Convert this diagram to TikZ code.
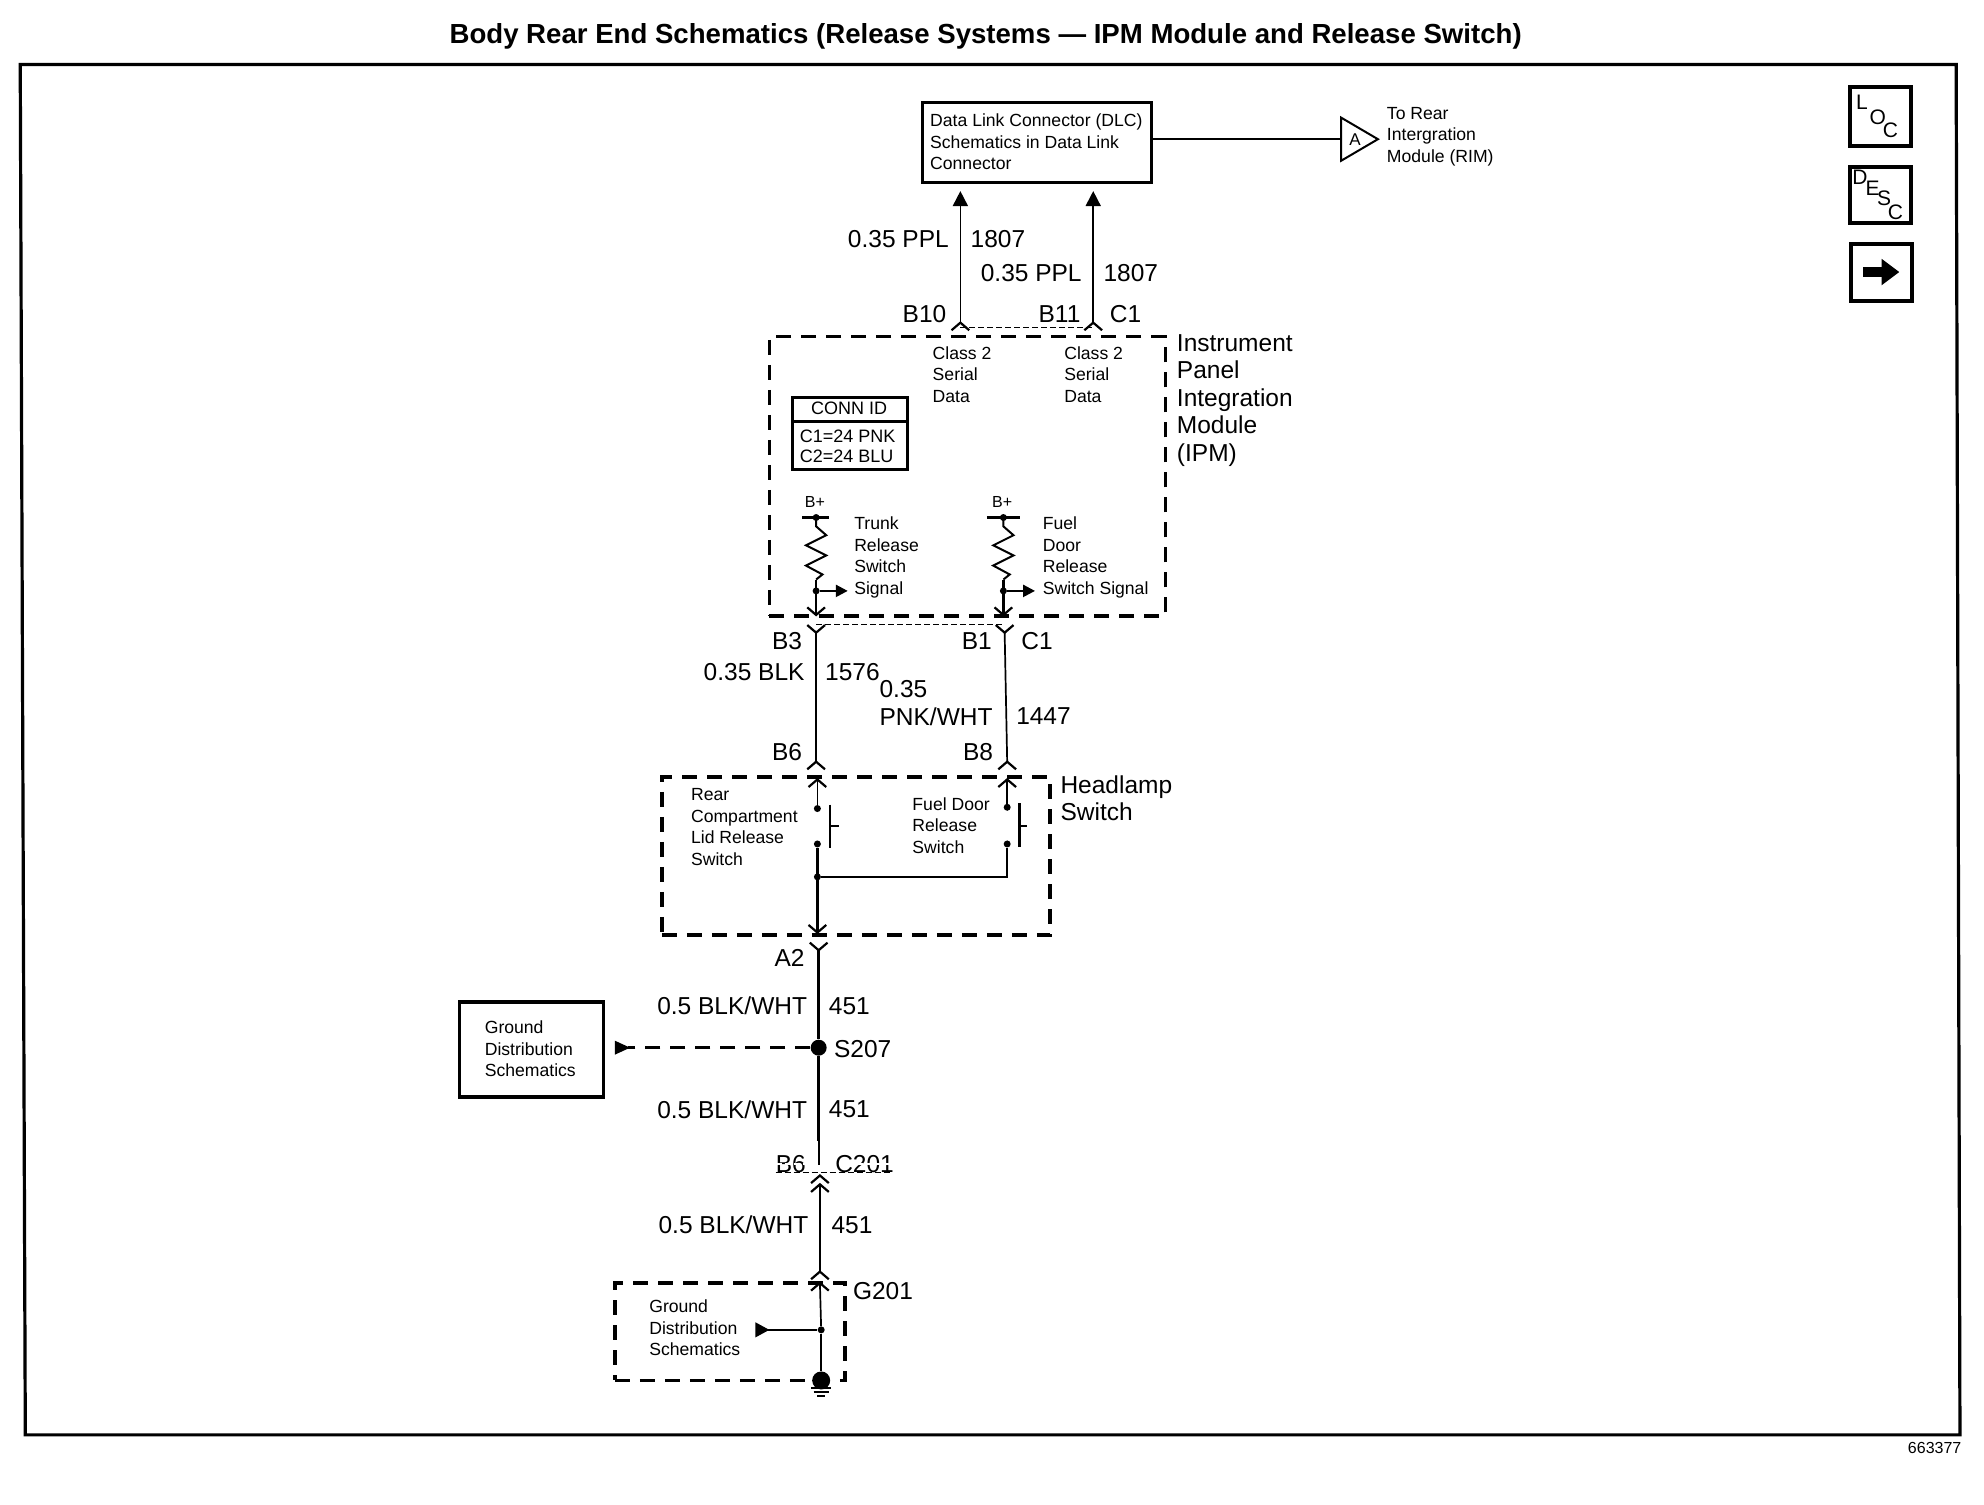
\documentclass[tikz,border=0pt]{standalone}
\usepackage{fontspec}
\setmainfont{Liberation Sans}
\usetikzlibrary{arrows.meta,fit,calc}
\tikzset{
 x=1.2653pt,y=-1.2653pt,
 wire/.style={line width=2.4pt,line cap=butt},
 thinwire/.style={line width=1.7pt},
 thindash/.style={line width=1.1pt,dash pattern=on 6pt off 3pt},
 dashbox/.style={draw,line width=3.6pt,dash pattern=on 15pt off 10pt,inner sep=0pt},
 solidbox/.style={draw,line width=3.4pt,inner sep=0pt},
 big/.style={font=\fontsize{24.5}{27.5}\selectfont,inner sep=0pt,align=left},
 small/.style={font=\fontsize{17.6}{21.6}\selectfont,inner sep=0pt,align=left},
 mid/.style={font=\fontsize{18}{20}\selectfont,inner sep=0pt,align=left},
 icon/.style={font=\fontsize{21}{21}\selectfont,inner sep=0pt},
 jdot/.style={circle,fill=black,inner sep=0pt,minimum size=7pt},
 fillarrow/.style={-{Triangle[width=15pt,length=15pt]}},
 cup/.pic={\draw[line width=2.2pt] (-7,6) -- (0,0) -- (7,6);},
 cdown/.pic={\draw[line width=2.2pt] (-7,-6) -- (0,0) -- (7,-6);},
 resis/.pic={\draw[line width=2pt,line join=miter] (0,0) -- (0,7) -- (8,14) -- (-8,22) -- (8,30) -- (-8,38) -- (5,45) -- (0,49);},
 gndbar/.style={line width=2pt},
}
\begin{document}
\begin{tikzpicture}
\useasboundingbox (0,0) rectangle (1568,1188.65);
% title
\node[inner sep=0pt,font=\fontsize{27.6}{30}\selectfont\bfseries] (title) at (779,29) {Body Rear End Schematics (Release Systems — IPM Module and Release Switch)};
\draw[line width=3.2pt,line join=miter] (16,51) -- (1546,51) -- (1549,1134) -- (20,1134) -- cycle;
\node[inner sep=0pt,font=\fontsize{16}{16}\selectfont] (fignum) at (1529,1144) {663377};
% icons
\node[solidbox,line width=4pt,fit={(1462,69)(1510,115)}] (loc) {};
\node[icon] (locL) at (1471.5,80.5) {L};
\node[icon] (locO) at (1484,92.5) {O};
\node[icon] (locC) at (1494,103) {C};
\node[solidbox,line width=4pt,fit={(1462,132)(1510,176)}] (desc) {};
\node[icon] (descD) at (1470,140) {D};
\node[icon] (descE) at (1480,149) {E};
\node[icon] (descS) at (1489,157) {S};
\node[icon] (descC) at (1498,168) {C};
\node[solidbox,line width=4pt,fit={(1463,193)(1511,238)}] (nav) {};
\fill (1472,211) rectangle (1488,219);
\fill (1487,204.5) -- (1501,215) -- (1487,225.5) -- cycle;
% DLC
\node[solidbox,fit={(729,81)(910,144)}] (dlc) {};
\node[small,anchor=west] (dlctxt) at (735,112) {Data Link Connector (DLC)\\Schematics in Data Link\\Connector};
\coordinate (offA) at (1060,110);
\draw[wire] (dlc.east |- offA) -- (offA);
\draw[line width=2pt,line join=miter] (1060,93) -- (1089,110) -- (1060,127) -- cycle;
\node[inner sep=0pt,font=\fontsize{17}{17}\selectfont] (offAt) at (1071,110) {A};
\node[small,anchor=west] (rimtxt) at (1096,108) {To Rear\\Intergration\\Module (RIM)};
% upper wires
\coordinate (w1t) at (759,151);\coordinate (w1b) at (759,255);
\coordinate (w2t) at (864,151);\coordinate (w2b) at (864,255);
\draw[thinwire,fillarrow] (w1b) -- (w1t);
\draw[thinwire,fillarrow] (w2b) -- (w2t);
\pic at (w1b) {cup};
\pic at (w2b) {cup};
\draw[thindash] (w1b |- 0,259) -- (w2b |- 0,259);
\node[big,anchor=east] (l1) at (750,189) {0.35 PPL};
\node[big,anchor=west] (l2) at (767,189) {1807};
\node[big,anchor=east] (l3) at (855,216) {0.35 PPL};
\node[big,anchor=west] (l4) at (872,216) {1807};
\node[big,anchor=east] (l5) at (748,248) {B10};
\node[big,anchor=east] (l6) at (854,248) {B11};
\node[big,anchor=west] (l7) at (877,248) {C1};
% IPM
\node[dashbox,fit={(608,266)(921,487)}] (ipm) {};
\node[big,anchor=west] (ipmt) at (930,316.5) {Instrument\\Panel\\Integration\\Module\\(IPM)};
\node[small,anchor=west] (cl1) at (737,296) {Class 2\\Serial\\Data};
\node[small,anchor=west] (cl2) at (841,296) {Class 2\\Serial\\Data};
\node[solidbox,line width=3pt,fit={(626,314)(717,371)}] (conn) {};
\draw[line width=3pt] (626,333) -- (717,333);
\node[mid,anchor=center] (connh) at (671,323) {CONN ID};
\node[mid,anchor=west] (conn1) at (632,345) {C1=24 PNK};
\node[mid,anchor=west] (conn2) at (632,361) {C2=24 BLU};
% left pull-up
\node[inner sep=0pt,font=\fontsize{16}{16}\selectfont] (bp1) at (644,397) {B+};
\coordinate (r1t) at (645,409);\coordinate (r1j) at (645,467);\coordinate (r1b) at (645,486);
\draw[wire] (634,409) -- (655,409);
\node[jdot] (d1) at (r1t) {};
\pic at (r1t) {resis};
\node[jdot] (d2) at (r1j) {};
\coordinate (s1) at (670,467);
\draw[line width=2.4pt,-{Triangle[width=12pt,length=12pt]}] (d2) -- (s1);
\draw[wire] (r1t |- 0,458) -- (r1b);
\pic at (r1b) {cdown};
\node[small,anchor=west] (t1) at (675,440.5) {Trunk\\Release\\Switch\\Signal};
% right pull-up
\node[inner sep=0pt,font=\fontsize{16}{16}\selectfont] (bp2) at (792,397) {B+};
\coordinate (r2t) at (793,409);\coordinate (r2j) at (793,467);\coordinate (r2b) at (793,486);
\draw[wire] (780,409) -- (806,409);
\node[jdot] (d3) at (r2t) {};
\pic at (r2t) {resis};
\node[jdot] (d4) at (r2j) {};
\coordinate (s2) at (818,467);
\draw[line width=2.4pt,-{Triangle[width=12pt,length=12pt]}] (d4) -- (s2);
\draw[wire] (r2t |- 0,458) -- (r2b);
\pic at (r2b) {cdown};
\node[small,anchor=west] (t2) at (824,440.5) {Fuel\\Door\\Release\\Switch Signal};
% middle wires
\coordinate (m1t) at (645,500);\coordinate (m1b) at (645,602);
\coordinate (m2t) at (794,500);\coordinate (m2b) at (796,602);
\draw[wire] (m1t) -- (m1b);
\draw[thinwire] (m2t) -- (m2b);
\pic at (m1t) {cdown};
\pic at (m2t) {cdown};
\pic at (m1b) {cup};
\pic at (m2b) {cup};
\draw[thindash] (645,493.5) -- (794,493.5);
\node[big,anchor=east] (b3) at (634,507) {B3};
\node[big,anchor=east] (b1) at (784,507) {B1};
\node[big,anchor=west] (c1b) at (807,507) {C1};
\node[big,anchor=east] (w1) at (636,531) {0.35 BLK};
\node[big,anchor=west] (w2) at (652,531) {1576};
\node[big,anchor=west] (w3) at (695,555.5) {0.35\\PNK/WHT};
\node[big,anchor=west] (w4) at (803,566) {1447};
\node[big,anchor=east] (b6) at (634,594) {B6};
\node[big,anchor=east] (b8) at (785,594) {B8};
% Headlamp
\node[dashbox,fit={(523,614)(830,739)}] (hl) {};
\node[big,anchor=west] (hlt) at (838,631) {Headlamp\\Switch};
\node[small,anchor=west] (hl1) at (546,653.5) {Rear\\Compartment\\Lid Release\\Switch};
\node[small,anchor=west] (hl2) at (721,652.5) {Fuel Door\\Release\\Switch};
\node[jdot] (a1) at (646,639) {};
\node[jdot] (a2) at (646,667) {};
\node[jdot] (a3) at (796,638) {};
\node[jdot] (a4) at (796,667) {};
\node[jdot] (a5) at (646,693) {};
\coordinate (a1t) at (646,616);\coordinate (a3t) at (796,616);\coordinate (a5b) at (646,737);
\draw[thinwire] (a1) -- (a1t);
\draw[wire] (a3) -- (a3t);
\pic at (a1t) {cup};
\pic at (a3t) {cup};
\draw[wire] (a2) -- (a5b);
\pic at (a5b) {cdown};
\draw[wire] (a5) -- (a5 -| a4) -- (a4);
\draw[line width=2.6pt] (656,636) -- (656,670);
\draw[line width=2.4pt] (656,653) -- (663,653);
\draw[line width=2.6pt] (805.5,635) -- (805.5,669);
\draw[line width=2.4pt] (805.5,653) -- (812,653);
% lower trunk
\coordinate (low1) at (647,751);
\coordinate (low2) at (647,921);
\node[circle,fill=black,inner sep=0pt,minimum size=16pt] (s207) at (647,828) {};
\pic at (low1) {cdown};
\draw[wire] (low1) -- (s207);
\draw[wire] (s207) -- (647,902);
\draw[thinwire] (647,902) -- (low2);
\node[big,anchor=east] (a2l) at (636,757) {A2};
\node[big,anchor=east] (w5) at (638,795) {0.5 BLK/WHT};
\node[big,anchor=west] (w6) at (655,795) {451};
\node[big,anchor=west] (s207l) at (659,829) {S207};
\node[solidbox,fit={(363,792)(477,867)}] (gds) {};
\node[small,anchor=west] (gdst) at (383,829) {Ground\\Distribution\\Schematics};
\coordinate (tri1) at (496,828);
\draw[line width=2.4pt,dash pattern=on 15pt off 10pt] (s207) -- (tri1);
\fill (486,822.5) -- (498,828) -- (486,833.5) -- cycle;
\node[big,anchor=east] (w7) at (638,877) {0.5 BLK/WHT};
\node[big,anchor=west] (w8) at (655,877) {451};
\node[big,anchor=east] (b6c) at (637,920) {B6};
\node[big,anchor=west] (c201) at (660,920) {C201};
\draw[thindash,white,line width=1.5pt] (613,920) -- (705,920);
\draw[thindash] (613,926.5) -- (705,926.5);
\coordinate (ch1) at (648,929);\coordinate (ch2) at (648,936);\coordinate (low3) at (648,1005);
\pic at (ch1) {cup};
\pic at (ch2) {cup};
\draw[thinwire] (ch2) -- (low3);
\pic at (low3) {cup};
\node[big,anchor=east] (w9) at (639,968) {0.5 BLK/WHT};
\node[big,anchor=west] (w10) at (657,968) {451};
% G201
\node[dashbox,fit={(486,1014)(668,1091)}] (g201) {};
\node[big,anchor=west] (g201l) at (674,1020) {G201};
\node[small,anchor=west] (g1) at (513,1049.5) {Ground\\Distribution\\Schematics};
\coordinate (g2t) at (648,1014);
\node[jdot] (g3) at (649,1051) {};
\node[circle,fill=black,inner sep=0pt,minimum size=18pt] (g4) at (649,1091) {};
\pic at (g2t) {cup};
\draw[thinwire] (g2t) -- (g3);
\draw[thinwire] (g3) -- (g4);
\coordinate (g5) at (606,1051);
\draw[thinwire] (g3) -- (g5);
\fill (597,1045) -- (608,1051) -- (597,1057) -- cycle;
\draw[gndbar] (641,1097) -- (657,1097);
\draw[gndbar] (643,1100) -- (655,1100);
\draw[gndbar] (646,1103) -- (652,1103);
\end{tikzpicture}
\end{document}
